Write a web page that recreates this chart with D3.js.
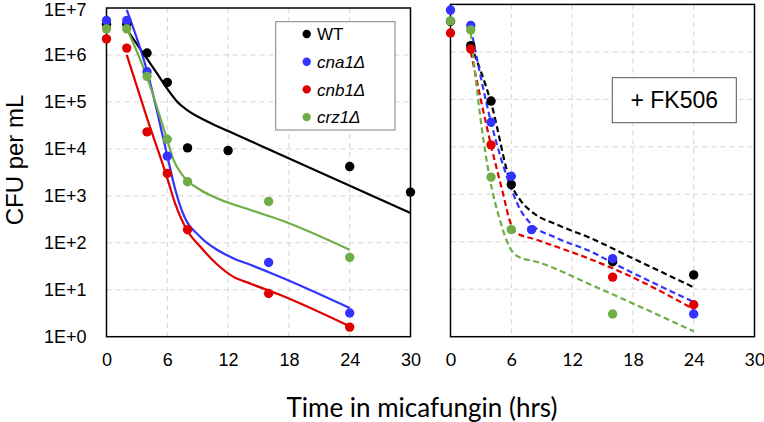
<!DOCTYPE html>
<html>
<head>
<meta charset="utf-8">
<script src="https://cdn.jsdelivr.net/npm/d3@7"></script>
<style>
  html, body { margin: 0; padding: 0; background: #fff; }
  svg { display: block; }
</style>
</head>
<body>
<svg id="chart" width="764" height="422"></svg>
<script>
// ---------- data ----------
const seriesNames = ["WT", "cna1Δ", "cnb1Δ", "crz1Δ"];
const seriesColors = ["#000000", "#3333ff", "#e00000", "#70ad47"];
const xTicks = [0, 6, 12, 18, 24, 30];
const yTicks = [1, 10, 100, 1e3, 1e4, 1e5, 1e6, 1e7];
const yTickLabels = ["1E+0", "1E+1", "1E+2", "1E+3", "1E+4", "1E+5", "1E+6", "1E+7"];

// Left panel (micafungin only): measured points [hours, CFU/mL]
const leftWT   = [[0, 4.5e6], [2, 4.5e6], [4, 1.1e6], [6, 2.6e5], [8, 1.05e4], [12, 9.2e3], [24, 4.2e3], [30, 1.2e3]];
const leftCna1 = [[0, 5.4e6], [2, 5.4e6], [4, 4.4e5], [6, 7.0e3], [16, 38], [24, 3.2]];
const leftCnb1 = [[0, 2.2e6], [2, 1.4e6], [4, 2.3e4], [6, 3.0e3], [8, 1.9e2], [16, 8.3], [24, 1.6]];
const leftCrz1 = [[0, 3.6e6], [2, 3.6e6], [4, 3.5e5], [6, 1.6e4], [8, 2.0e3], [16, 7.6e2], [24, 49]];

// Left panel fitted curves (solid)
const leftFitWT   = [[2, 3.5e6], [4, 8.3e5], [5, 4.0e5], [6, 1.9e5], [7, 1.0e5], [8, 6.6e4], [10, 3.8e4], [12, 2.4e4], [15, 1.23e4], [30, 4.3e2]];
const leftFitCna1 = [[2, 9.1e6], [4, 4.6e5], [5.95, 7.9e3], [6.77, 1.4e3], [7.59, 4.0e2], [9.24, 1.35e2], [10.9, 71], [12.5, 47], [14.2, 34], [17.1, 19], [24, 4.1]];
const leftFitCnb1 = [[2, 1.0e6], [4, 4.5e4], [5.94, 2.6e3], [6.77, 6.9e2], [7.92, 1.9e2], [9.24, 83], [10.9, 35], [12.5, 19], [14.2, 13.5], [17.1, 7.8], [24, 1.66]];
const leftFitCrz1 = [[2, 3.7e6], [3.97, 3.5e5], [5.95, 1.66e4], [6.6, 5.9e3], [7.59, 2.6e3], [9.24, 1.35e3], [10.9, 8.9e2], [14.2, 5.0e2], [17.1, 3.1e2], [24, 71]];

// Right panel (+ FK506): measured points
const rightWT   = [[0, 4.4e6], [2, 1.35e6], [4, 9.2e4], [6, 1.6e3], [16, 38], [24, 20]];
const rightCna1 = [[0, 7.6e6], [2, 3.6e6], [4, 3.3e4], [6, 2.4e3], [8, 1.8e2], [16, 44], [24, 3.0]];
const rightCnb1 = [[0, 2.5e6], [2, 1.15e6], [4, 1.1e4], [16, 18], [24, 4.7]];
const rightCrz1 = [[0, 4.5e6], [2, 2.9e6], [4, 2.3e3], [6, 1.8e2], [16, 3.0]];

// Right panel fitted curves (dashed)
const rightFitWT   = [[2, 1.4e6], [4, 8.5e4], [6, 1.6e3], [6.87, 7.6e2], [8.2, 4.0e2], [10.5, 2.3e2], [13.8, 1.2e2], [17.7, 48], [24, 11]];
const rightFitCna1 = [[2, 3.2e6], [4, 3.3e4], [6, 1.3e3], [6.87, 4.8e2], [7.85, 2.5e2], [10.5, 1.2e2], [13.8, 63], [16, 36], [24, 5.4]];
const rightFitCnb1 = [[2, 1.0e6], [4, 1.07e4], [5.2, 1.0e3], [5.85, 2.75e2], [6.35, 1.6e2], [8.5, 1.1e2], [13.8, 43], [17.7, 19], [24, 3.8]];
const rightFitCrz1 = [[2, 2.5e6], [2.9, 5.0e4], [3.87, 2.2e3], [4.9, 2.75e2], [5.85, 76], [6.5, 51], [8.85, 36], [13.8, 12.6], [16, 7.8], [24, 1.3]];

// ---------- drawing ----------
const svg = d3.select("#chart");

const panels = [
  { x0: 106.5, x1: 410.5, top: 8, bottom: 336.7, points: [leftWT, leftCna1, leftCnb1, leftCrz1],
    fits: [leftFitWT, leftFitCna1, leftFitCnb1, leftFitCrz1], dashed: false, yLabels: true, tickFont: "'Liberation Sans', Arial, sans-serif" },
  { x0: 450.5, x1: 754.5, top: 4.4, bottom: 336.7, points: [rightWT, rightCna1, rightCnb1, rightCrz1],
    fits: [rightFitWT, rightFitCna1, rightFitCnb1, rightFitCrz1], dashed: true, yLabels: false, tickFont: "Lato, 'Open Sans', sans-serif" }
];

panels.forEach(p => {
  const x = d3.scaleLinear().domain([0, 30]).range([p.x0, p.x1]);
  const y = d3.scaleLog().domain([1, 1e7]).range([p.bottom, p.top]);
  const g = svg.append("g");

  // gridlines
  g.append("g").selectAll("line.v").data(xTicks.filter(t => t > 0 && t < 30)).join("line")
    .attr("x1", d => x(d)).attr("x2", d => x(d)).attr("y1", p.top).attr("y2", p.bottom)
    .attr("stroke", "#d4d4d4").attr("stroke-width", 1).attr("stroke-dasharray", "5,4");
  g.append("g").selectAll("line.h").data(yTicks.filter(t => t > 1 && t < 1e7)).join("line")
    .attr("x1", p.x0).attr("x2", p.x1).attr("y1", d => y(d)).attr("y2", d => y(d))
    .attr("stroke", "#d4d4d4").attr("stroke-width", 1).attr("stroke-dasharray", "5,4");

  // frame
  g.append("rect").attr("x", p.x0).attr("y", p.top).attr("width", p.x1 - p.x0).attr("height", p.bottom - p.top)
    .attr("fill", "none").attr("stroke", "#000").attr("stroke-width", 1.5);

  // x axis labels
  const xa = g.append("g").attr("transform", `translate(0,${p.bottom})`)
    .call(d3.axisBottom(x).tickValues(xTicks).tickSize(0).tickPadding(17).tickFormat(d3.format("d")));
  xa.select(".domain").remove();
  xa.selectAll("text").attr("font-family", p.tickFont).attr("font-size", 18).attr("fill", "#000");

  if (p.yLabels) {
    const ya = g.append("g").attr("transform", `translate(${p.x0},0)`)
      .call(d3.axisLeft(y).tickValues(yTicks).tickSize(0).tickPadding(20)
        .tickFormat(d => yTickLabels[yTicks.indexOf(d)]));
    ya.select(".domain").remove();
    ya.selectAll("text").attr("font-family", "'Liberation Sans', Arial, sans-serif").attr("font-size", 18).attr("fill", "#000")
      .attr("dy", d => d === 1e7 ? "0.42em" : "0.32em");
  }

  // fitted curves
  const line = d3.line().x(d => x(d[0])).y(d => y(d[1])).curve(d3.curveMonotoneX);
  p.fits.forEach((f, i) => {
    g.append("path").attr("d", line(f)).attr("fill", "none")
      .attr("stroke", seriesColors[i]).attr("stroke-width", 2.2)
      .attr("stroke-dasharray", p.dashed ? "6,3.5" : null);
  });

  // points
  p.points.forEach((pts, i) => {
    g.append("g").selectAll("circle").data(pts).join("circle")
      .attr("cx", d => x(d[0])).attr("cy", d => y(d[1])).attr("r", 4.7)
      .attr("fill", seriesColors[i]);
  });
});

// legend
const lg = svg.append("g");
lg.append("rect").attr("x", 275.7).attr("y", 21.7).attr("width", 119.3).attr("height", 108.3)
  .attr("fill", "#fff").attr("stroke", "#7f7f7f").attr("stroke-width", 1);
seriesNames.forEach((n, i) => {
  const yy = 34 + i * 27.7;
  lg.append("circle").attr("cx", 306.7).attr("cy", yy).attr("r", 4.2).attr("fill", seriesColors[i]);
  lg.append("text").attr("x", 317).attr("y", yy).attr("dy", "0.36em")
    .attr("font-family", "'Liberation Sans', Arial, sans-serif").attr("font-size", 17)
    .attr("font-style", i === 0 ? "normal" : "italic").attr("fill", "#000").text(n);
});

// + FK506 label
svg.append("rect").attr("x", 612.3).attr("y", 77.7).attr("width", 124).attr("height", 45)
  .attr("fill", "#fff").attr("stroke", "#555").attr("stroke-width", 1);
svg.append("text").attr("x", 674.3).attr("y", 100.2).attr("dy", "0.36em").attr("text-anchor", "middle")
  .attr("font-family", "'Liberation Sans', Arial, sans-serif").attr("font-size", 23).attr("fill", "#000").text("+ FK506");

// axis titles
svg.append("text").attr("transform", "translate(23,160) rotate(-90)").attr("text-anchor", "middle")
  .attr("font-family", "'Liberation Sans', Arial, sans-serif").attr("font-size", 24).attr("fill", "#000").text("CFU per mL");
svg.append("text").attr("x", 422).attr("y", 417).attr("text-anchor", "middle")
  .attr("font-family", "Lato, 'Open Sans', sans-serif").attr("font-size", 26).attr("fill", "#000").text("Time in micafungin (hrs)");
</script>
</body>
</html>
